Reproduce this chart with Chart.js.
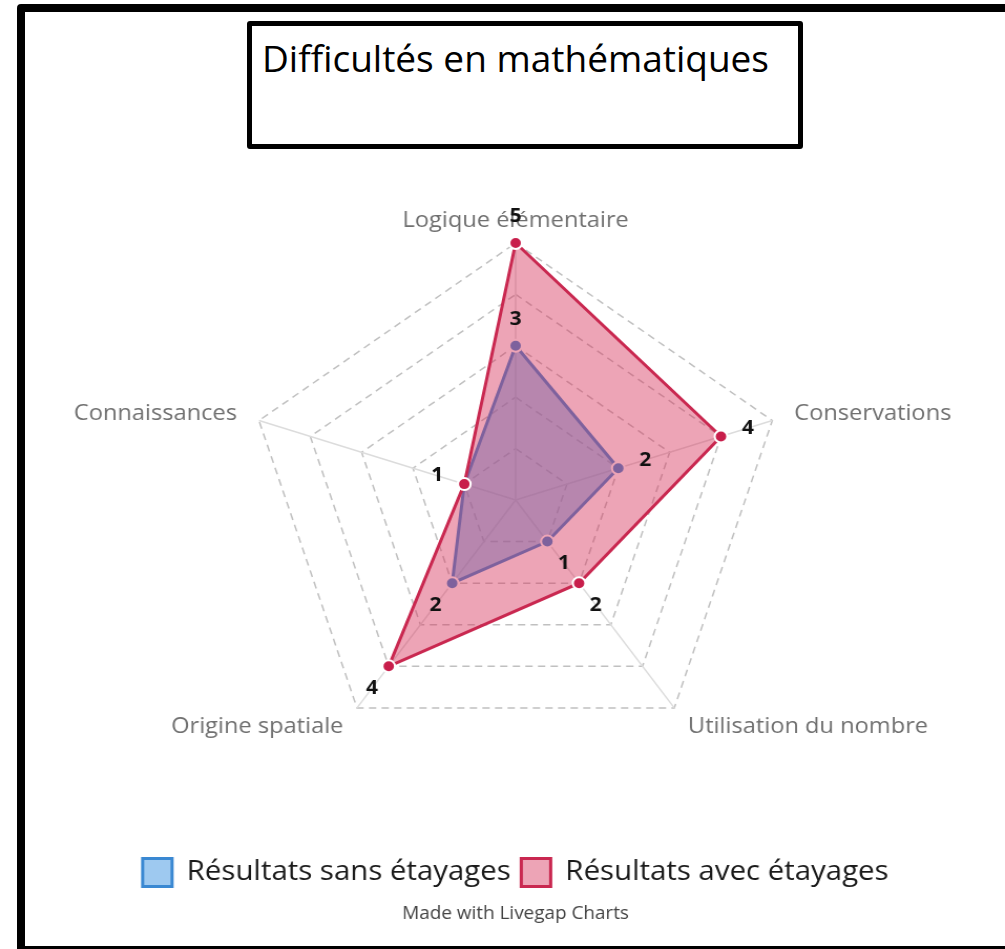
<!DOCTYPE html>
<html><head><meta charset="utf-8">
<script src="https://cdn.jsdelivr.net/npm/chart.js@4"></script>
<style>
html,body{margin:0;padding:0;width:1005px;height:949px;overflow:hidden;background:#fff;}
#wrap{position:relative;width:1005px;height:949px;overflow:hidden;}
#c{position:absolute;left:0;top:0;}
#frame{position:absolute;left:17px;top:4px;width:1100px;height:950px;border:8px solid #000;border-radius:4px;box-sizing:border-box;pointer-events:none;}
#title{position:absolute;left:247px;top:21px;width:556px;height:128px;border:5px solid #000;border-radius:3px;box-sizing:border-box;background:#fff;font-family:'Open Sans',sans-serif;font-size:37px;color:#000;padding:9px 0 0 10px;line-height:46px;white-space:nowrap;}
</style></head>
<body><div id="wrap"><canvas id="c" width="957" height="949" style="width:1005px;height:949px"></canvas><div id="title">Difficultés en mathématiques</div><div id="frame"></div></div>
<script>
const categories = ['Logique élémentaire', 'Conservations', 'Utilisation du nombre', 'Origine spatiale', 'Connaissances'];
const seriesNames = ['Résultats sans étayages', 'Résultats avec étayages'];
const sansEtayages = [3, 2, 1, 2, 1];
const avecEtayages = [5, 4, 2, 4, 1];
const tickValues = [0, 1, 2, 3, 4, 5];
const creditText = 'Made with Livegap Charts';

const valueLabels = {
  id: 'valueLabels',
  afterDatasetsDraw(chart) {
    const ctx = chart.ctx;
    const r = chart.scales.r;
    ctx.save();
    ctx.font = 'bold 20px "Open Sans"';
    ctx.fillStyle = '#111';
    ctx.textAlign = 'center';
    ctx.textBaseline = 'middle';
    chart.data.datasets.forEach((ds, di) => {
      const meta = chart.getDatasetMeta(di);
      meta.data.forEach((pt, i) => {
        const dx = pt.x - r.xCenter, dy = pt.y - r.yCenter;
        const d = Math.hypot(dx, dy) || 1;
        ctx.fillText(String(ds.data[i]), pt.x + dx / d * 27, pt.y + dy / d * 27);
      });
    });
    ctx.restore();
  }
};

new Chart(document.getElementById('c'), {
  type: 'radar',
  data: {
    labels: categories,
    datasets: [
      {
        label: seriesNames[0], data: sansEtayages, order: 1, fill: true,
        backgroundColor: 'rgba(78,156,228,0.55)', borderColor: '#3a88d2', borderWidth: 3,
        pointBackgroundColor: '#3a88d2', pointBorderColor: '#ffffff', pointBorderWidth: 2, pointRadius: 6
      },
      {
        label: seriesNames[1], data: avecEtayages, order: 0, fill: true,
        backgroundColor: 'rgba(214,48,88,0.44)', borderColor: '#c92850', borderWidth: 3,
        pointBackgroundColor: '#c81e4b', pointBorderColor: '#ffffff', pointBorderWidth: 2, pointRadius: 6
      }
    ]
  },
  options: {
    responsive: false,
    animation: false,
    devicePixelRatio: 1,
    layout: { padding: { top: 209, left: 41, right: 16, bottom: 24 } },
    scales: {
      r: {
        min: tickValues[0],
        max: tickValues[tickValues.length - 1],
        ticks: { display: false, stepSize: 1 },
        grid: { color: '#c0c0c0', lineWidth: 1.5 },
        border: { dash: [7, 5] },
        angleLines: { color: '#dcdcdc', lineWidth: 1.5 },
        pointLabels: {
          color: '#707070', padding: 22,
          font: { family: 'Open Sans', size: 22.5, lineHeight: '1px' }
        }
      }
    },
    plugins: {
      legend: {
        position: 'bottom',
        labels: {
          font: { family: 'Open Sans', size: 28 }, color: '#1a1a1a',
          boxWidth: 28, boxHeight: 28, padding: 10,
          sort: (a, b) => a.datasetIndex - b.datasetIndex
        },
        title: { display: true, text: '', font: { size: 10, lineHeight: '10px' }, padding: { top: 68, bottom: 0 } }
      },
      subtitle: {
        display: true, text: creditText, position: 'bottom',
        font: { family: 'Open Sans', size: 18, weight: 'normal' }, color: '#444',
        padding: { top: 7, bottom: 0 }
      },
      tooltip: { enabled: false }
    }
  },
  plugins: [valueLabels]
});
</script>
</body></html>
